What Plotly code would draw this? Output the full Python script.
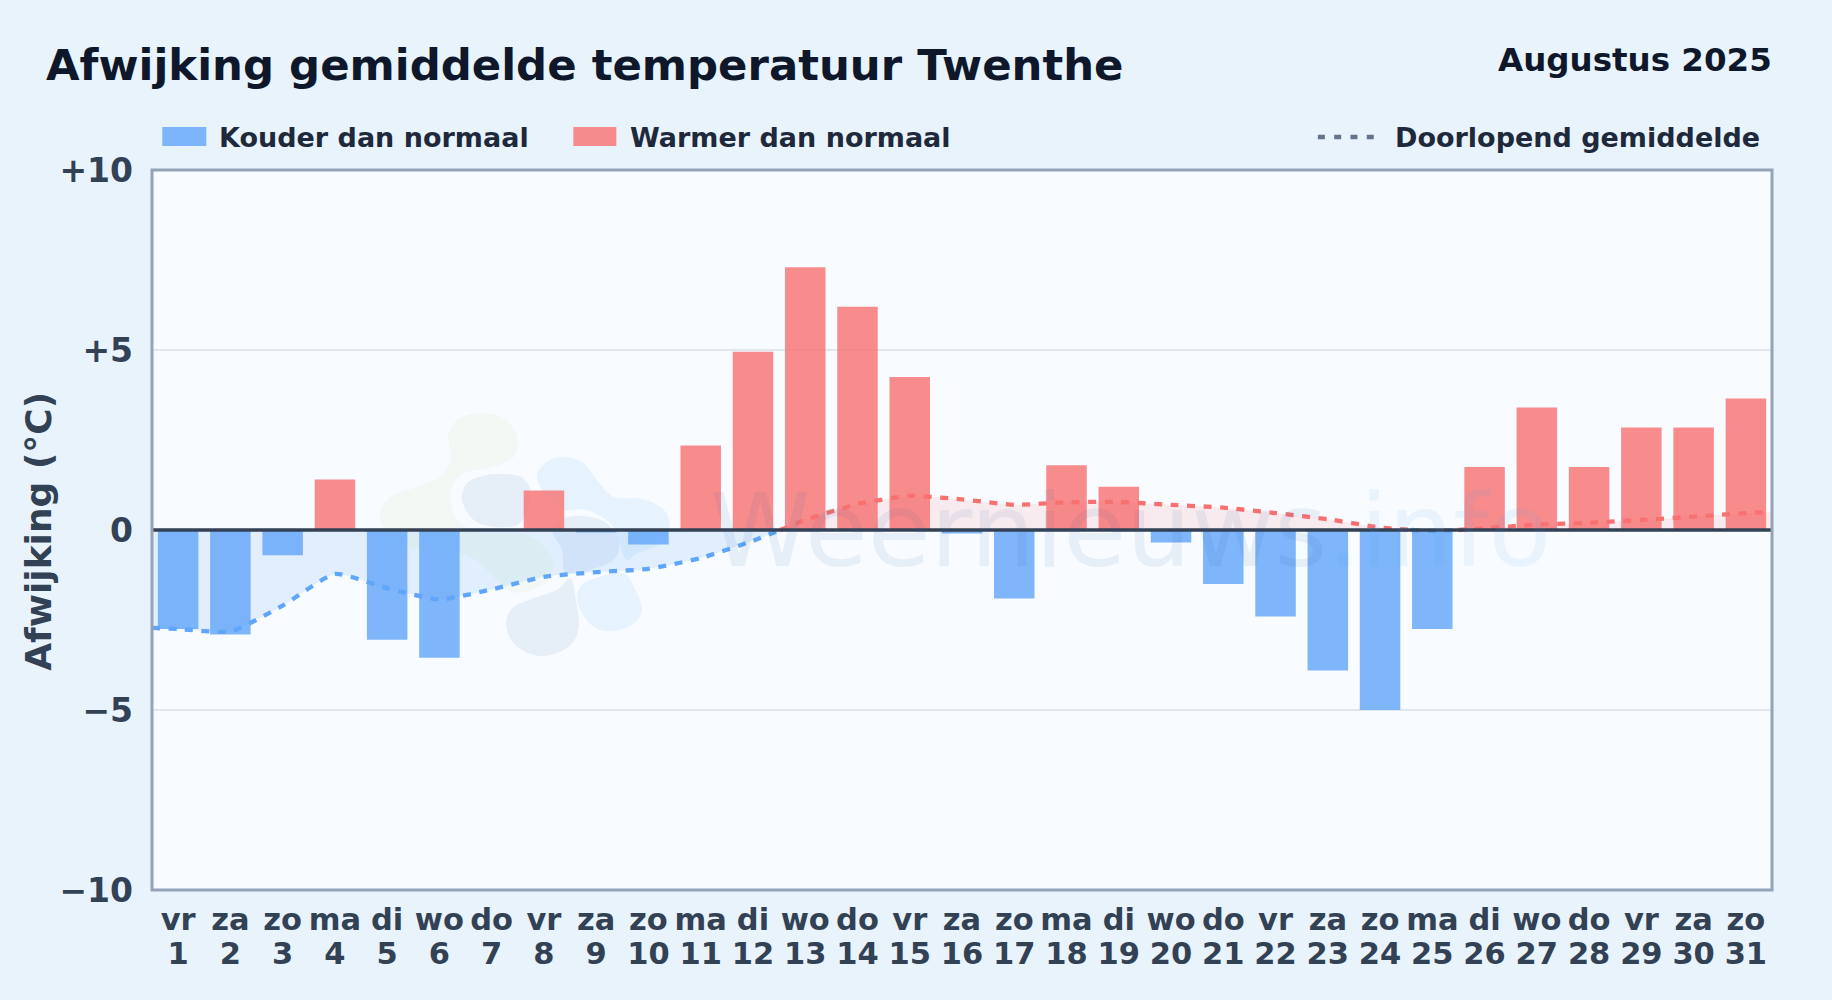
import plotly.graph_objects as go

WIDTH, HEIGHT = 1832, 1000
PLOT_L, PLOT_R, PLOT_T, PLOT_B = 151.7, 1771.6, 170, 890
FONT = "DejaVu Sans"

days = list(range(1, 32))
weekdays = ["vr", "za", "zo", "ma", "di", "wo", "do", "vr", "za", "zo", "ma", "di", "wo", "do", "vr", "za",
            "zo", "ma", "di", "wo", "do", "vr", "za", "zo", "ma", "di", "wo", "do", "vr", "za", "zo"]
deviation = [-2.75, -2.9, -0.7, 1.4, -3.05, -3.55, 0, 1.1, -0.07, -0.4, 2.35, 4.95, 7.3, 6.2, 4.25, -0.1,
             -1.9, 1.8, 1.2, -0.35, -1.5, -2.4, -3.9, -5.0, -2.75, 1.75, 3.4, 1.75, 2.85, 2.85, 3.65]

# Running mean, including its edge values and its zero crossings
avg_x = [0.5, 1, 2, 3, 4, 5, 6, 7, 8, 9, 10, 11, 12, 12.52, 13, 14, 15, 16, 17, 18, 19, 20, 21, 22, 23, 24,
         24.6, 25, 25.5, 26, 27, 28, 29, 30, 31, 31.5]
avg_y = [-2.72, -2.75, -2.82, -2.1, -1.22, -1.62, -1.93, -1.65, -1.3, -1.17, -1.08, -0.78, -0.3, 0, 0.28,
         0.72, 0.95, 0.85, 0.7, 0.77, 0.78, 0.7, 0.62, 0.47, 0.3, 0.07, 0, -0.03, 0, 0.05, 0.15, 0.2, 0.28,
         0.37, 0.47, 0.5]

y_ticks = [-10, -5, 0, 5, 10]
y_labels = ["−10", "−5", "0", "+5", "+10"]

BLUE, RED = "#60a5fa", "#f87171"
BLUE_BAR, RED_BAR = "rgba(96,165,250,0.8)", "rgba(248,113,113,0.8)"
BLUE_FILL, RED_FILL = "rgba(96,165,250,0.15)", "rgba(248,113,113,0.11)"


def px(x):
    return (x - PLOT_L) / (PLOT_R - PLOT_L)


def py(y):
    return (PLOT_B - y) / (PLOT_B - PLOT_T)


def blob_path(points):
    # Closed Catmull-Rom outline through zoom-crop points, in paper coordinates
    pts = [(px(370 + a / 3), py(400 + b / 3)) for a, b in points]
    n = len(pts)
    d = f"M{pts[0][0]:.5f},{pts[0][1]:.5f}"
    for i in range(n):
        p0, p1, p2, p3 = pts[i - 1], pts[i], pts[(i + 1) % n], pts[(i + 2) % n]
        c1 = (p1[0] + (p2[0] - p0[0]) / 6, p1[1] + (p2[1] - p0[1]) / 6)
        c2 = (p2[0] - (p3[0] - p1[0]) / 6, p2[1] - (p3[1] - p1[1]) / 6)
        d += f" C{c1[0]:.5f},{c1[1]:.5f} {c2[0]:.5f},{c2[1]:.5f} {p2[0]:.5f},{p2[1]:.5f}"
    return d + " Z"


logo_green = [(330, 40), (400, 55), (440, 110), (430, 170), (370, 200), (280, 220), (245, 260), (240, 300),
              (270, 370), (350, 400), (470, 405), (545, 470), (535, 540), (470, 575), (410, 570), (360, 520),
              (300, 470), (200, 440), (110, 440), (50, 400), (30, 340), (60, 290), (140, 260), (200, 235),
              (240, 180), (235, 100), (270, 55)]
logo_gray_top = [(380, 222), (450, 230), (480, 270), (470, 330), (440, 375), (370, 380), (310, 360), (275, 300),
                 (290, 250), (330, 230)]
logo_blue_top = [(580, 170), (640, 190), (680, 240), (730, 290), (820, 298), (880, 330), (898, 380), (870, 430),
                 (800, 460), (770, 480), (745, 430), (720, 370), (650, 330), (580, 330), (530, 290), (500, 230),
                 (530, 185)]
logo_gray_mid = [(640, 348), (710, 370), (745, 430), (730, 480), (660, 510), (600, 520), (580, 510), (575, 450),
                 (545, 390), (580, 355)]
logo_blue_low = [(690, 530), (760, 520), (790, 560), (815, 625), (790, 670), (730, 693), (670, 680), (625, 620),
                 (630, 560)]
logo_gray_low = [(600, 535), (615, 590), (625, 680), (595, 740), (515, 768), (440, 740), (408, 680), (425, 625),
                 (490, 595), (560, 570)]

shapes = []
for pts, col in [
    (logo_green, "rgba(132,204,22,0.05)"),
    (logo_gray_top, "rgba(30,90,160,0.08)"),
    (logo_blue_top, "rgba(56,160,248,0.09)"),
    (logo_gray_mid, "rgba(30,90,160,0.08)"),
    (logo_blue_low, "rgba(56,160,248,0.09)"),
    (logo_gray_low, "rgba(30,90,160,0.08)"),
]:
    shapes.append(dict(type="path", xref="paper", yref="paper", path=blob_path(pts), fillcolor=col,
                       line=dict(width=0), layer="below"))

# Zero line above the bars
shapes.append(dict(type="line", xref="paper", yref="y", x0=0, x1=1, y0=0, y1=0,
                   line=dict(color="#334155", width=3.5), layer="above"))
# Plot border, centred on the plot edge
shapes.append(dict(type="rect", xref="paper", yref="paper", x0=0, x1=1, y0=0, y1=1,
                   line=dict(color="#94a3b8", width=3), fillcolor="rgba(0,0,0,0)", layer="above"))
# Legend swatches
shapes.append(dict(type="rect", xref="paper", yref="paper", x0=px(162), x1=px(206), y0=py(146), y1=py(127),
                   fillcolor=BLUE_BAR, line=dict(width=0)))
shapes.append(dict(type="rect", xref="paper", yref="paper", x0=px(573), x1=px(616), y0=py(146), y1=py(127),
                   fillcolor=RED_BAR, line=dict(width=0)))
shapes.append(dict(type="line", xref="paper", yref="paper", x0=px(1317.5), x1=px(1374), y0=py(137), y1=py(137),
                   line=dict(color="#64748b", width=4.5, dash="7px,9.3px")))

fig = go.Figure()
fig.add_bar(x=[d for d, v in zip(days, deviation) if v < 0], y=[v for v in deviation if v < 0],
            name="Kouder dan normaal", marker=dict(color=BLUE_BAR, line=dict(width=0)))
fig.add_bar(x=[d for d, v in zip(days, deviation) if v > 0], y=[v for v in deviation if v > 0],
            name="Warmer dan normaal", marker=dict(color=RED_BAR, line=dict(width=0)))


def segments(sign):
    out, cur = [], []
    for x, y in zip(avg_x, avg_y):
        if y * sign >= 0:
            cur.append((x, y))
        else:
            if len(cur) > 1:
                out.append(cur)
            cur = []
    if len(cur) > 1:
        out.append(cur)
    return out


for sign, col, fill in [(-1, BLUE, BLUE_FILL), (1, RED, RED_FILL)]:
    for seg in segments(sign):
        fig.add_scatter(x=[p[0] for p in seg], y=[p[1] for p in seg], mode="lines",
                        line=dict(color=col, width=4.3, dash="8px,8.5px", shape="spline", smoothing=0.5),
                        fill="tozeroy", fillcolor=fill, name="Doorlopend gemiddelde", hoverinfo="skip")


def text(x, y, s, size, color, anchor="left", weight=700, angle=0, opacity=1):
    return dict(x=px(x), y=py(y), xref="paper", yref="paper", text=s, showarrow=False, xanchor=anchor,
                yanchor="middle", textangle=angle, opacity=opacity,
                font=dict(family=FONT, size=size, color=color, weight=weight))


watermark = 'Weernieuws<span style="color:rgb(56,160,248)">.info</span>'

annotations = [
    text(44.2, 65, "Afwijking gemiddelde temperatuur Twenthe", 43.4, "#0f172a"),
    text(1773.5, 60, "Augustus 2025", 32.5, "#0f172a", "right"),
    text(217, 137.5, "Kouder dan normaal", 27, "#1e293b"),
    text(628, 137.5, "Warmer dan normaal", 27, "#1e293b"),
    text(1393, 137.5, "Doorlopend gemiddelde", 27, "#1e293b"),
    text(1130, 530, watermark, 102, "rgb(30,90,160)", "center", 400, 0, 0.075),
    text(37.5, 531, "Afwijking (°C)", 36, "#334155", "center", 700, -90),
]

x_labels = [f'<span style="font-size:30.5px">{w}</span><br><span style="font-size:30.5px">{d}</span>'
            for w, d in zip(weekdays, days)]

fig.update_layout(
    width=WIDTH, height=HEIGHT, autosize=False,
    margin=dict(l=PLOT_L, r=WIDTH - PLOT_R, t=PLOT_T, b=HEIGHT - PLOT_B, pad=0),
    paper_bgcolor="#e8f3fc", plot_bgcolor="#f8fbff",
    barmode="overlay", bargap=0.225, showlegend=False,
    font=dict(family=FONT, color="#334155"),
    shapes=shapes, annotations=annotations,
    xaxis=dict(range=[0.5, 31.5], tickmode="array", tickvals=days, ticktext=x_labels,
               tickfont=dict(family=FONT, size=26.3, color="#334155", weight=700), ticklabelstandoff=13,
               showgrid=False, zeroline=False, ticks="", showline=False, tickangle=0, automargin=False),
    yaxis=dict(range=[-10, 10], tickmode="array", tickvals=y_ticks, ticktext=y_labels,
               tickfont=dict(family=FONT, size=33, color="#334155", weight=700), ticklabelstandoff=18,
               showgrid=True, gridcolor="#e1e8ec", gridwidth=2, zeroline=False, ticks="", ticklen=0,
               showline=False, automargin=False),
)

fig.write_html("out.html", config=dict(displayModeBar=False), post_script="document.body.style.margin='0';")
